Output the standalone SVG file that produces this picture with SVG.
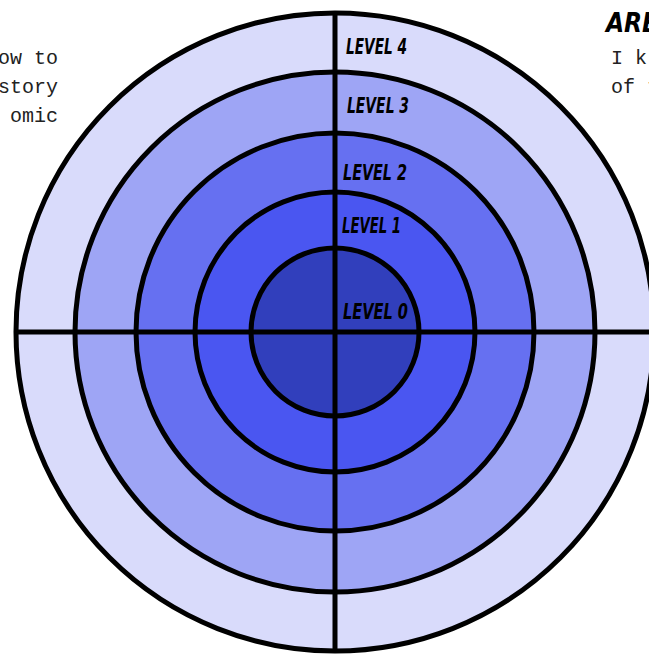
<svg xmlns="http://www.w3.org/2000/svg" width="649" height="657" viewBox="0 0 649 657">
<style>
.ring{stroke:#000;stroke-width:5}
.lbl{font-family:"DejaVu Sans Condensed","DejaVu Sans",sans-serif;font-weight:bold;font-style:italic;font-size:22px;fill:#000}
.txt{font-family:"Liberation Mono","Courier New",monospace;font-size:20px;fill:#222}
</style>
<rect width="649" height="657" fill="#fff"/>
<g id="level4"><circle class="ring" cx="335" cy="332" r="319" fill="#d9dbfb" stroke-width="6"/></g>
<g id="level3"><circle class="ring" cx="335" cy="332" r="260" fill="#9ea5f5"/></g>
<g id="level2"><circle class="ring" cx="335" cy="332" r="199" fill="#6670f1"/></g>
<g id="level1"><circle class="ring" cx="335" cy="332" r="140" fill="#4a56f1"/></g>
<g id="level0"><circle class="ring" cx="335" cy="332" r="84" fill="#313fbc"/></g>
<g id="connectors" stroke="#000" stroke-width="5">
<line x1="335" y1="12" x2="335" y2="652"/>
<line x1="15" y1="332" x2="649" y2="332"/>
</g>
<g id="labels">
<text class="lbl" x="346" y="54" textLength="61" lengthAdjust="spacingAndGlyphs">LEVEL 4</text>
<text class="lbl" x="347" y="113" textLength="62" lengthAdjust="spacingAndGlyphs">LEVEL 3</text>
<text class="lbl" x="343" y="180" textLength="64" lengthAdjust="spacingAndGlyphs">LEVEL 2</text>
<text class="lbl" x="342" y="233" textLength="59" lengthAdjust="spacingAndGlyphs">LEVEL 1</text>
<text class="lbl" x="343" y="319" textLength="65" lengthAdjust="spacingAndGlyphs">LEVEL 0</text>
</g>
<g id="left-text">
<text class="txt" x="58" y="64" text-anchor="end">ow to</text>
<text class="txt" x="58" y="93" text-anchor="end">story</text>
<text class="txt" x="58" y="122" text-anchor="end">omic</text>
</g>
<g id="right-text">
<text x="606" y="32" font-family="DejaVu Sans Condensed,DejaVu Sans,sans-serif" font-weight="bold" font-style="italic" font-size="26" fill="#000">ARE</text>
<text class="txt" x="611" y="64">I k</text>
<text class="txt" x="611" y="93">of t</text>
</g>
</svg>
